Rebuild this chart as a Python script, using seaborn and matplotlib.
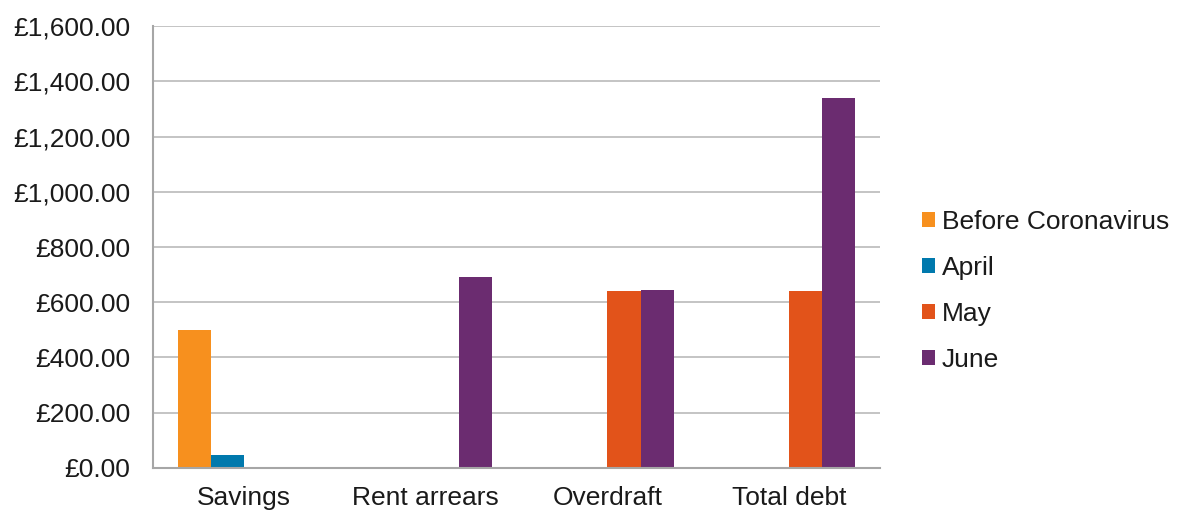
import matplotlib
matplotlib.use("Agg")
import matplotlib.pyplot as plt
import seaborn as sns
import pandas as pd
from matplotlib.ticker import FuncFormatter

# data
categories = ["Savings", "Rent arrears", "Overdraft", "Total debt"]
periods = ["Before Coronavirus", "April", "May", "June"]
before_corona = [500, 0, 0, 0]
april = [47, 0, 0, 0]
may = [0, 0, 641, 641]
june = [0, 690, 646, 1339]
colors = ["#F7901E", "#0079AD", "#E2531A", "#6B2C70"]

df = pd.DataFrame({
    "category": categories * 4,
    "period": [p for p in periods for _ in categories],
    "value": before_corona + april + may + june,
})

sns.set_theme(style="white")
plt.rcParams["font.family"] = ["Liberation Sans", "DejaVu Sans"]

fig = plt.figure(figsize=(11.79, 5.14), dpi=100)
ax = fig.add_axes([0.1298, 0.0895, 0.6166, 0.8599])

sns.barplot(data=df, x="category", y="value", hue="period",
            order=categories, hue_order=periods, palette=colors,
            width=0.73, saturation=1, linewidth=0, ax=ax)

ax.set_ylim(0, 1600)
ax.set_yticks(range(0, 1601, 200))
ax.yaxis.set_major_formatter(FuncFormatter(lambda v, _: f"£{v:,.2f}"))
ax.grid(axis="y", color="#BFBFBF", linewidth=1.3)
ax.set_axisbelow(True)
ax.set_xlabel("")
ax.set_ylabel("")

for side in ["top", "right"]:
    ax.spines[side].set_visible(False)
for side in ["left", "bottom"]:
    ax.spines[side].set_color("#A6A6A6")
    ax.spines[side].set_linewidth(1.5)

ax.tick_params(axis="y", length=0, pad=16.5, labelsize=19, labelcolor="#1a1a1a")
ax.tick_params(axis="x", length=0, pad=13, labelsize=19, labelcolor="#1a1a1a")

handles, labels = ax.get_legend_handles_labels()
ax.legend(handles, labels, loc="center left", bbox_to_anchor=(0.782, 0.434),
          bbox_transform=fig.transFigure, frameon=False, fontsize=19,
          borderaxespad=0, borderpad=0,
          handlelength=0.5, handleheight=0.5, handletextpad=0.25,
          labelspacing=0.83, labelcolor="#1a1a1a")

fig.savefig("out.png", dpi=100)
